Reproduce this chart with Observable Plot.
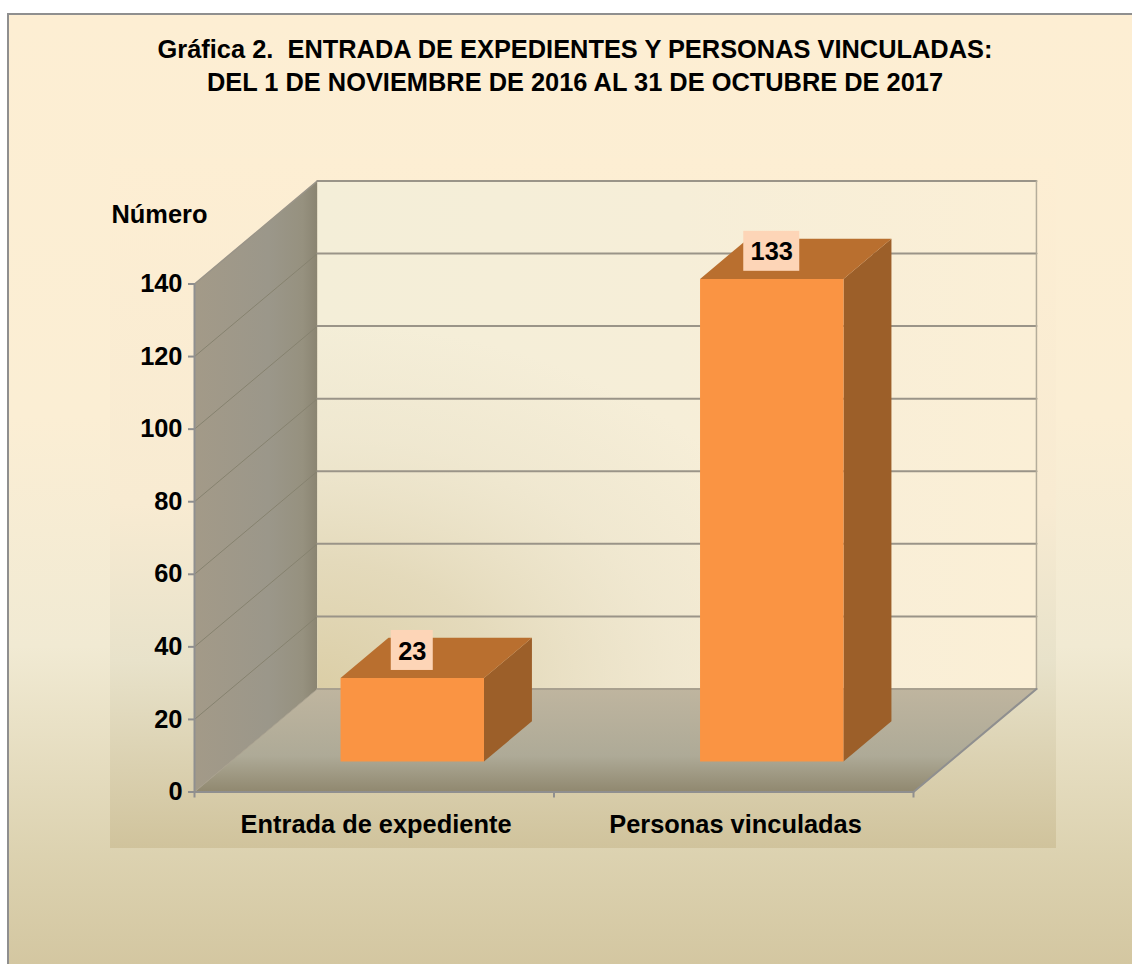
<!DOCTYPE html>
<html><head><meta charset="utf-8">
<script src="https://cdn.jsdelivr.net/npm/d3@7"></script>
<script src="https://cdn.jsdelivr.net/npm/@observablehq/plot@0.6"></script>
<style>
html,body{margin:0;padding:0;background:#fff}
#page{position:relative;width:1132px;height:964px;overflow:hidden;font-family:"Liberation Sans",Arial,sans-serif}
#frame{position:absolute;left:7px;top:13px;width:1140px;height:960px;border:2px solid #8f8f8f;box-sizing:border-box;
 background:linear-gradient(180deg,#fdeed3 0%,#fbeed4 42%,#f1ead3 66%,#dcd2b0 88%,#d3c6a0 100%)}
#area{position:absolute;left:110px;top:158px;width:946px;height:690px;
 background:linear-gradient(180deg,#fdeed3 0%,#f8ebd2 50%,#e8e2ca 73%,#d0c39c 100%)}
#title{position:relative;height:158px;box-sizing:border-box;padding-top:33px;text-align:center;font-weight:bold;font-size:25.4px;line-height:33px;color:#000;white-space:pre;width:1150px}
#chart{position:relative}
svg{display:block;overflow:visible}
</style></head><body>
<div id="page"><div id="frame"></div><div id="area"></div>
<div id="title">Gráfica 2.  ENTRADA DE EXPEDIENTES Y PERSONAS VINCULADAS:
DEL 1 DE NOVIEMBRE DE 2016 AL 31 DE OCTUBRE DE 2017</div>
<div id="chart"></div></div>
<script>
const categories = ["Entrada de expediente","Personas vinculadas"];
const values = [23,133];
const yTicks = [0,20,40,60,80,100,120,140];
const yMax = 140, xMax = categories.length;
// oblique projection of the 3-D box: depth 1 = back wall
const depthX = 0.342, depthY = 28.4;
const P = (x,v,d=0)=>({x:x+d*depthX,y:v+d*depthY});
const barStart = 0.305, barWidth = 0.399, barFront = 0.296, barDepth = 0.39;
const quad = (pts,o)=>Plot.line(pts,{x:"x",y:"y",stroke:"none",curve:"linear",...o});
const defs = ()=>{const g=document.createElementNS("http://www.w3.org/2000/svg","g");
 g.innerHTML=`<defs>
 <linearGradient id="leftWall" x1="0" y1="0" x2="1" y2="0"><stop offset="0" stop-color="#a39a88"/><stop offset=".6" stop-color="#9b978a"/><stop offset=".88" stop-color="#96917f"/><stop offset="1" stop-color="#8a8471"/></linearGradient>
 <linearGradient id="backWall" x1="0" y1="0" x2="1" y2="0"><stop offset="0" stop-color="#f4eed8"/><stop offset=".5" stop-color="#f6eed8"/><stop offset="1" stop-color="#fbefd6"/></linearGradient>
 <radialGradient id="backShade" cx="0" cy="1" r=".72"><stop offset="0" stop-color="#dbcea6" stop-opacity="1"/><stop offset=".35" stop-color="#e0d5b4" stop-opacity=".8"/><stop offset=".7" stop-color="#e8dfc5" stop-opacity=".4"/><stop offset="1" stop-color="#e8dfc5" stop-opacity="0"/></radialGradient>
 <linearGradient id="floor" x1="0" y1="0" x2="0" y2="1"><stop offset="0" stop-color="#bfb59f"/><stop offset=".65" stop-color="#aeaa97"/><stop offset="1" stop-color="#90886f"/></linearGradient>
 </defs>`;return g;};
const leftWall=[P(0,0),P(0,yMax),P(0,yMax,1),P(0,0,1)];
const backWall=[P(0,0,1),P(0,yMax,1),P(xMax,yMax,1),P(xMax,0,1)];
const floor=[P(0,0),P(xMax,0),P(xMax,0,1),P(0,0,1)];
const bars=values.map((v,i)=>{const x0=i+barStart,x1=x0+barWidth,d0=barFront,d1=barFront+barDepth;return {
 front:[P(x0,0,d0),P(x0,v,d0),P(x1,v,d0),P(x1,0,d0)],
 top:[P(x0,v,d0),P(x1,v,d0),P(x1,v,d1),P(x0,v,d1)],
 side:[P(x1,0,d0),P(x1,v,d0),P(x1,v,d1),P(x1,0,d1)],
 label:P(x0+barWidth/2,v+7.6,d0),text:String(v)};});
const sideLines=yTicks.map(v=>[P(0,v),P(0,v,1)]);
const backLines=yTicks.map(v=>[P(0,v,1),P(xMax,v,1)]);
const labelUnits=px=>px/359.5, valueUnits=px=>px/3.629;
const fontFamily="'Liberation Sans',Arial,sans-serif";
const plot=Plot.plot({
 width:1132,height:806,marginLeft:194,marginRight:219,marginTop:125.5,marginBottom:172.5,
 style:{background:"transparent",fontFamily,overflow:"visible"},
 x:{domain:[0,xMax],axis:null},y:{domain:[0,yMax],axis:null},
 marks:[
  defs,
  quad(leftWall,{fill:"url(#leftWall)"}),
  quad(backWall,{fill:"url(#backWall)"}),
  quad(backWall,{fill:"url(#backShade)"}),
  quad(floor,{fill:"url(#floor)"}),
  ...sideLines.slice(1,-1).map(l=>Plot.line(l,{x:"x",y:"y",stroke:"#86826f",strokeWidth:1,curve:"linear"})),
  ...backLines.slice(1).map(l=>Plot.line(l,{x:"x",y:"y",stroke:"#9a9488",strokeWidth:2,curve:"linear"})),
  Plot.line([P(xMax,0,1),P(xMax,yMax,1)],{x:"x",y:"y",stroke:"#b5ad9b",strokeWidth:1.5,curve:"linear"}),
  Plot.line([P(0,yMax,0),P(0,yMax,1)],{x:"x",y:"y",stroke:"#9a9488",strokeWidth:1.5,curve:"linear"}),
  Plot.line([P(0,0,1),P(xMax,0,1)],{x:"x",y:"y",stroke:"#a8a08f",strokeWidth:2,curve:"linear"}),
  Plot.line([P(0,0,0),P(0,0,1)],{x:"x",y:"y",stroke:"#a8a08f",strokeWidth:1,curve:"linear"}),
  Plot.line([P(0,0,0),P(xMax,0,0),P(xMax,0,1)],{x:"x",y:"y",stroke:"#8f8f8f",strokeWidth:2,curve:"linear"}),
  Plot.line([P(0,0,0),P(0,yMax,0)],{x:"x",y:"y",stroke:"#8f8f8f",strokeWidth:2,curve:"linear"}),
  ...bars.flatMap(b=>[
    quad(b.side,{fill:"#9c5f29"}),
    quad(b.top,{fill:"#b96f2f"}),
    quad(b.front,{fill:"#fa9443"})
  ]),
  Plot.rect(bars,{x1:b=>b.label.x-labelUnits(b.text.length*7+7),x2:b=>b.label.x+labelUnits(b.text.length*7+7),
    y1:b=>b.label.y-valueUnits(20),y2:b=>b.label.y+valueUnits(20),fill:"#fdd5b7"}),
  Plot.text(bars,{x:b=>b.label.x,y:b=>b.label.y,text:"text",fontSize:25.4,fontWeight:"bold",fill:"#000",dy:1}),
  Plot.axisY(yTicks,{anchor:"left",tickSize:6,tickPadding:6,stroke:"#8f8f8f",strokeWidth:2,fontSize:25.4,fontWeight:"bold",fill:"#000",color:"#000",label:null,tickFormat:d=>d,textStroke:"none"}),
  Plot.text(["Número"],{x:()=>0,y:()=>yMax+18.6,dx:-83,dy:-2,textAnchor:"start",fontSize:25.4,fontWeight:"bold",fill:"#000"}),
  Plot.axisX([0,1,2],{anchor:"bottom",tickSize:6,stroke:"#8f8f8f",strokeWidth:2,tickFormat:()=>"",label:null}),
  Plot.text(categories,{x:(d,i)=>i+0.505,y:()=>0,dy:33,fontSize:25.4,fontWeight:"bold",fill:"#000"})
 ]});
document.getElementById("chart").appendChild(plot);
</script></body></html>
